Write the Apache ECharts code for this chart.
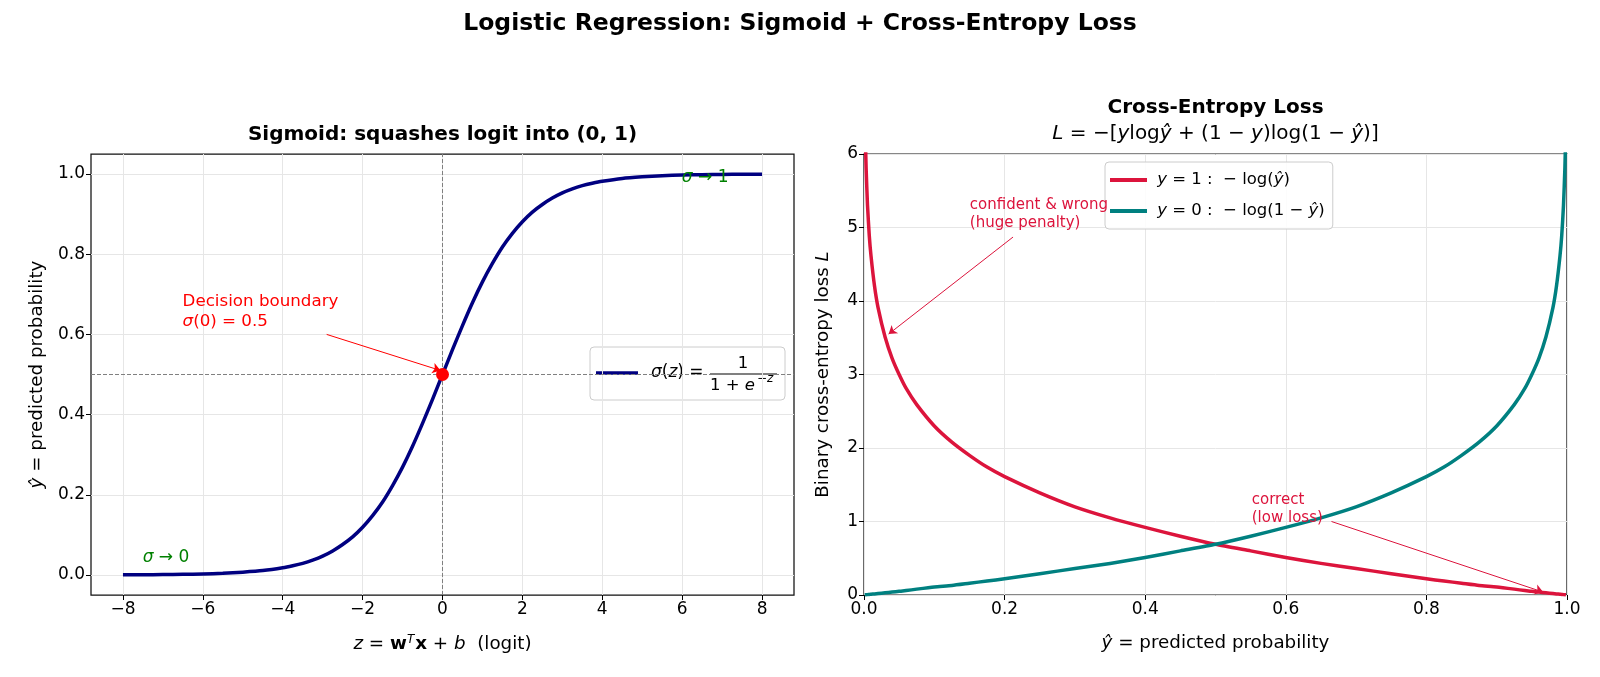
<!DOCTYPE html>
<html>
<head>
<meta charset="utf-8">
<title>Logistic Regression: Sigmoid + Cross-Entropy Loss</title>
<script src="https://cdn.jsdelivr.net/npm/echarts@6/dist/echarts.min.js"></script>
<style>
  html, body { margin: 0; padding: 0; background: #fff; }
  #main { width: 1600px; height: 677px; }
</style>
</head>
<body>
<div id="main"></div>
<script>
// 左图：sigmoid 曲线（从图上读出的点）
var logitZ = [-8, -7.5, -7, -6.5, -6, -5.5, -5, -4.5,
  -4, -3.75, -3.5, -3.25, -3, -2.75, -2.5, -2.25, -2, -1.75, -1.5, -1.25, -1, -0.75, -0.5, -0.25,
  0, 0.25, 0.5, 0.75, 1, 1.25, 1.5, 1.75, 2, 2.25, 2.5, 2.75, 3, 3.25, 3.5, 3.75, 4,
  4.5, 5, 5.5, 6, 6.5, 7, 7.5, 8];
var sigmoidY = [0.0003, 0.0006, 0.0009, 0.0015, 0.0025, 0.004, 0.007, 0.011,
  0.018, 0.023, 0.029, 0.037, 0.047, 0.060, 0.076, 0.095, 0.119, 0.148, 0.182, 0.223, 0.269, 0.321, 0.378, 0.438,
  0.500, 0.562, 0.622, 0.679, 0.731, 0.777, 0.818, 0.852, 0.881, 0.905, 0.924, 0.940, 0.953, 0.963, 0.971, 0.977, 0.982,
  0.989, 0.993, 0.996, 0.9975, 0.9985, 0.9991, 0.9994, 0.9997];
var boundaryPoint = [0, 0.5];

// 右图：交叉熵损失
var probY = [0.001, 0.0015, 0.002, 0.003, 0.005, 0.0075, 0.01, 0.015, 0.02, 0.03, 0.04, 0.05, 0.06, 0.075, 0.1, 0.125, 0.15, 0.175, 0.2,
  0.25, 0.3, 0.35, 0.4, 0.45, 0.5, 0.55, 0.6, 0.65, 0.7, 0.75,
  0.8, 0.825, 0.85, 0.875, 0.9, 0.925, 0.94, 0.95, 0.96, 0.97, 0.98, 0.985, 0.99, 0.9925, 0.995, 0.997, 0.998, 0.9985, 0.999];
var lossPos = [6.91, 6.50, 6.21, 5.81, 5.30, 4.89, 4.61, 4.20, 3.91, 3.51, 3.22, 3.00, 2.81, 2.59, 2.30, 2.08, 1.90, 1.74, 1.61,
  1.39, 1.20, 1.05, 0.92, 0.80, 0.69, 0.60, 0.51, 0.43, 0.36, 0.29,
  0.22, 0.19, 0.16, 0.13, 0.11, 0.08, 0.06, 0.05, 0.04, 0.03, 0.02, 0.015, 0.01, 0.008, 0.005, 0.003, 0.002, 0.0015, 0.001];
var lossNeg = [0.001, 0.0015, 0.002, 0.003, 0.005, 0.008, 0.01, 0.015, 0.02, 0.03, 0.04, 0.05, 0.06, 0.08, 0.11, 0.13, 0.16, 0.19, 0.22,
  0.29, 0.36, 0.43, 0.51, 0.60, 0.69, 0.80, 0.92, 1.05, 1.20, 1.39,
  1.61, 1.74, 1.90, 2.08, 2.30, 2.59, 2.81, 3.00, 3.22, 3.51, 3.91, 4.20, 4.61, 4.89, 5.30, 5.81, 6.21, 6.50, 6.91];

// 刻度
var leftXTicks = [-8, -6, -4, -2, 0, 2, 4, 6, 8];
var leftYTicks = [0, 0.2, 0.4, 0.6, 0.8, 1.0];

var FONT = "DejaVu Sans";
var GRIDLINE = "#e6e6e6";

function pairs (xs, ys) {
  return xs.map(function (x, i) { return [x, ys[i]]; });
}
function minus (v) {
  return String(v).replace("-", "\u2212");
}
function fixed1 (v) {
  return v.toFixed(1).replace("-", "\u2212");
}

// 注释文字（markPoint，不画符号，只显示标签）
function note (coord, text, color, size, lh) {
  return {
    coord: coord,
    symbolSize: 1,
    itemStyle: { color: "transparent" },
    label: {
      show: true,
      position: [0, 0],
      align: "left",
      verticalAlign: "bottom",
      formatter: text,
      color: color,
      fontSize: size,
      lineHeight: lh,
      fontFamily: FONT,
      rich: {
        i: { fontStyle: "italic", fontFamily: FONT, color: color, fontSize: size, lineHeight: lh }
      }
    }
  };
}
function arrow (from, to, color) {
  return {
    silent: true,
    symbol: ["none", "arrow"],
    symbolSize: 8,
    label: { show: false },
    lineStyle: { color: color, width: 1, type: "solid" },
    data: [[{ coord: from }, { coord: to }]]
  };
}
function axisName (size) {
  return {
    color: "#000", fontSize: size, fontFamily: FONT,
    rich: {
      i: { fontStyle: "italic", fontFamily: FONT, fontSize: size, color: "#000" },
      b: { fontWeight: "bold", fontFamily: FONT, fontSize: size, color: "#000" },
      s: { fontStyle: "italic", fontFamily: FONT, fontSize: 12, color: "#000", verticalAlign: "top", padding: [0, 1, 9, 0] }
    }
  };
}

var tickStyle = { show: true, length: 5, lineStyle: { color: "#000" } };
var labelStyle = { color: "#000", fontSize: 17, fontFamily: FONT, margin: 6 };

var chart = echarts.init(document.getElementById("main"));

var option = {
  animation: false,
  backgroundColor: "#ffffff",
  grid: [
    { left: 91, right: 806, top: 154, bottom: 82, show: true, borderColor: "#111", borderWidth: 1.25 },
    { left: 864, right: 33, top: 154, bottom: 82, show: true, borderColor: "#111", borderWidth: 1.25 }
  ],
  xAxis: [
    {
      gridIndex: 0, type: "value", min: -8.8, max: 8.8,
      axisLine: { show: false, onZero: false },
      axisTick: Object.assign({ customValues: leftXTicks }, tickStyle),
      axisLabel: Object.assign({ customValues: leftXTicks, formatter: minus }, labelStyle),
      splitLine: { show: true, lineStyle: { color: GRIDLINE, width: 1 } },
      name: "{i|z} = {b|w}{s|T}{b|x} + {i|b}  (logit)",
      nameLocation: "middle", nameGap: 39,
      nameTextStyle: axisName(18.3)
    },
    {
      gridIndex: 1, type: "value", min: 0, max: 1, interval: 0.2,
      axisLine: { show: false, onZero: false },
      axisTick: tickStyle,
      axisLabel: Object.assign({ formatter: fixed1 }, labelStyle),
      splitLine: { show: true, lineStyle: { color: GRIDLINE, width: 1 } },
      name: "{i|ŷ} = predicted probability",
      nameLocation: "middle", nameGap: 39,
      nameTextStyle: axisName(18.3)
    }
  ],
  yAxis: [
    {
      gridIndex: 0, type: "value", min: -0.05, max: 1.05,
      axisLine: { show: false, onZero: false },
      axisTick: Object.assign({ customValues: leftYTicks }, tickStyle),
      axisLabel: Object.assign({ customValues: leftYTicks, formatter: fixed1 }, labelStyle),
      splitLine: { show: true, lineStyle: { color: GRIDLINE, width: 1 } },
      name: "{i|ŷ} = predicted probability",
      nameLocation: "middle", nameGap: 45, nameRotate: 90,
      nameTextStyle: axisName(18.3)
    },
    {
      gridIndex: 1, type: "value", min: 0, max: 6, interval: 1,
      axisLine: { show: false, onZero: false },
      axisTick: tickStyle,
      axisLabel: labelStyle,
      splitLine: { show: true, lineStyle: { color: GRIDLINE, width: 1 } },
      name: "Binary cross-entropy loss {i|L}",
      nameLocation: "middle", nameGap: 32, nameRotate: 90,
      nameTextStyle: axisName(18.3)
    }
  ],
  legend: {
    data: ["y = 1: −log(ŷ)", "y = 0: −log(1 − ŷ)"],
    orient: "vertical",
    left: 1105, top: 162,
    icon: "rect", itemWidth: 37, itemHeight: 4, itemGap: 11,
    padding: [8, 8, 8, 5],
    backgroundColor: "rgba(255,255,255,0.85)",
    borderColor: "#cccccc", borderWidth: 1, borderRadius: 4,
    textStyle: {
      color: "#000", fontSize: 16.5, fontFamily: FONT, lineHeight: 20,
      rich: { i: { fontStyle: "italic", fontFamily: FONT, fontSize: 16.5, color: "#000", lineHeight: 20 } }
    },
    formatter: function (name) {
      if (name.indexOf("y = 1") === 0) return " {i|y} = 1 :  − log({i|ŷ})";
      return " {i|y} = 0 :  − log(1 − {i|ŷ})";
    }
  },
  graphic: [
    // 标题
    { type: "text", x: 800, y: 23.5, style: { text: "Logistic Regression: Sigmoid + Cross-Entropy Loss", fill: "#000",
      fontSize: 23.5, fontWeight: "bold", fontFamily: FONT, align: "center", verticalAlign: "middle" } },
    { type: "text", x: 442.5, y: 135, style: { text: "Sigmoid: squashes logit into (0, 1)", fill: "#000",
      fontSize: 20, fontWeight: "bold", fontFamily: FONT, align: "center", verticalAlign: "middle" } },
    { type: "text", x: 1215.5, y: 107.5, style: { text: "Cross-Entropy Loss", fill: "#000",
      fontSize: 20, fontWeight: "bold", fontFamily: FONT, align: "center", verticalAlign: "middle" } },
    { type: "text", x: 1215.5, y: 134, style: {
      text: "{i|L} = −[{i|y}log{i|ŷ} + (1 − {i|y})log(1 − {i|ŷ})]", fill: "#000",
      fontSize: 20, fontFamily: FONT, align: "center", verticalAlign: "middle",
      rich: { i: { fontStyle: "italic", fontFamily: FONT, fontSize: 20, fill: "#000" } } } },
    // 左图图例（分式）
    {
      type: "group", z: 100,
      children: [
        { type: "rect", shape: { x: 590, y: 347, width: 195, height: 53, r: 4 },
          style: { fill: "rgba(255,255,255,0.85)", stroke: "#cccccc", lineWidth: 1 } },
        { type: "line", shape: { x1: 596, y1: 373, x2: 638, y2: 373 }, style: { stroke: "#000080", lineWidth: 3.5 } },
        { type: "text", x: 651, y: 373, style: { text: "{i|σ}({i|z}) =", fill: "#000", fontSize: 17, fontFamily: FONT,
          align: "left", verticalAlign: "middle", rich: { i: { fontStyle: "italic", fontFamily: FONT, fontSize: 17, fill: "#000" } } } },
        { type: "line", shape: { x1: 710, y1: 374, x2: 777, y2: 374 }, style: { stroke: "#000", lineWidth: 1 } },
        { type: "text", x: 743, y: 364, style: { text: "1", fill: "#000", fontSize: 16.5, fontFamily: FONT, align: "center", verticalAlign: "middle" } },
        { type: "text", x: 710, y: 386, style: { text: "1 + {i|e}", fill: "#000", fontSize: 16.5, fontFamily: FONT,
          align: "left", verticalAlign: "middle", rich: { i: { fontStyle: "italic", fontFamily: FONT, fontSize: 16.5, fill: "#000" } } } },
        { type: "text", x: 757, y: 379, style: { text: "−{i|z}", fill: "#000", fontSize: 12, fontFamily: FONT,
          align: "left", verticalAlign: "middle", rich: { i: { fontStyle: "italic", fontFamily: FONT, fontSize: 12, fill: "#000" } } } }
      ]
    }
  ],
  series: [
    {
      name: "sigmoid",
      type: "line",
      xAxisIndex: 0, yAxisIndex: 0,
      data: pairs(logitZ, sigmoidY),
      showSymbol: false,
      smooth: 0.2,
      lineStyle: { color: "#000080", width: 3.5, join: "round" },
      itemStyle: { color: "#000080" },
      z: 3,
      markLine: {
        silent: true,
        symbol: ["none", "none"],
        label: { show: false },
        lineStyle: { color: "#808080", width: 1, type: [4, 2] },
        data: [{ xAxis: 0 }, { yAxis: 0.5 }]
      },
      markPoint: {
        silent: true,
        data: [
          note([-6.5, 0.605], "Decision boundary\n{i|σ}(0) = 0.5", "#ff0000", 16.7, 20),
          note([-7.5, 0.015], "{i|σ} → 0", "#008000", 17, 20),
          note([6.0, 0.965], "{i|σ} → 1", "#008000", 17, 20)
        ]
      }
    },
    {
      name: "boundaryArrow",
      type: "line",
      xAxisIndex: 0, yAxisIndex: 0,
      data: [],
      markLine: arrow([-2.9, 0.6], [-0.05, 0.51], "#ff0000")
    },
    {
      name: "boundary",
      type: "scatter",
      xAxisIndex: 0, yAxisIndex: 0,
      data: [boundaryPoint],
      symbolSize: 13,
      itemStyle: { color: "#ff0000", opacity: 1 },
      z: 5
    },
    {
      name: "y = 1: −log(ŷ)",
      type: "line",
      xAxisIndex: 1, yAxisIndex: 1,
      data: pairs(probY, lossPos),
      showSymbol: false, clip: true,
      smooth: 0.2,
      lineStyle: { color: "#dc143c", width: 3.5, join: "round" },
      itemStyle: { color: "#dc143c" },
      markPoint: {
        silent: true,
        data: [
          note([0.151, 4.93], "confident & wrong\n(huge penalty)", "#dc143c", 15, 18),
          note([0.552, 0.91], "correct\n(low loss)", "#dc143c", 15, 18)
        ]
      }
    },
    {
      name: "y = 0: −log(1 − ŷ)",
      type: "line",
      xAxisIndex: 1, yAxisIndex: 1,
      data: pairs(probY, lossNeg),
      showSymbol: false, clip: true,
      smooth: 0.2,
      lineStyle: { color: "#008080", width: 3.5, join: "round" },
      itemStyle: { color: "#008080" }
    },
    {
      name: "arrowWrong",
      type: "line",
      xAxisIndex: 1, yAxisIndex: 1,
      data: [],
      markLine: arrow([0.212, 4.87], [0.035, 3.55], "#dc143c")
    },
    {
      name: "arrowCorrect",
      type: "line",
      xAxisIndex: 1, yAxisIndex: 1,
      data: [],
      markLine: arrow([0.665, 1.0], [0.966, 0.04], "#dc143c")
    }
  ]
};

chart.setOption(option);
</script>
</body>
</html>
